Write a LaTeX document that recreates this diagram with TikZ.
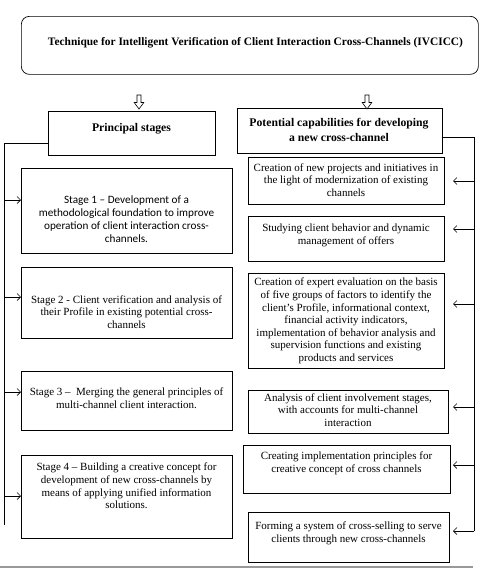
\documentclass[tikz,border=0pt]{standalone}
\usepackage{fontspec}
\setmainfont{Liberation Serif}
\newfontfamily\calibrifont{Carlito}
\usetikzlibrary{arrows.meta}
\tikzset{
  box/.style={draw, line width=0.7pt, inner sep=0pt, anchor=north west},
  txt/.style={align=center, inner sep=0pt, font=\fontsize{11}{12.6}\selectfont},
  btxt/.style={align=center, inner sep=0pt, font=\bfseries\fontsize{11.7}{15}\selectfont},
  arr/.style={-{Straight Barb[length=3.5pt,width=7pt]}, line width=0.6pt},
  conn/.style={line width=0.7pt},
  hollow/.style={draw, line width=0.6pt, fill=white},
}
\begin{document}
\begin{tikzpicture}[x=1pt,y=-1pt]
\useasboundingbox (0,0) rectangle (483,570);
% title
\node[draw, line width=0.7pt, rounded corners=8pt, anchor=north west, minimum width=457pt, minimum height=58pt, inner sep=0pt] (title) at (21,16) {};
\node[btxt, font=\bfseries\fontsize{11.4}{14}\selectfont] (tt) at (255.5,43) {Technique for Intelligent Verification of Client Interaction Cross-Channels (IVCICC)};
% headers
\node[box, minimum width=167pt, minimum height=44pt] (ps) at (48,111) {};
\node[btxt] (pst) at (131.5,129) {Principal stages};
\node[box, minimum width=205pt, minimum height=45pt] (pc) at (237,108) {};
\node[btxt] (pct) at (339,130) {Potential capabilities for developing\\a new cross-channel};
% hollow down arrows
\coordinate (da1) at (139,95);
\coordinate (da2) at (367,95);
\foreach \c in {da1,da2}{
  \draw[hollow] (\c) ++(-2,0) -- ++(0,7.5) -- ++(-2.8,0) -- ++(4.8,6.5) -- ++(4.8,-6.5) -- ++(-2.8,0) -- ++(0,-7.5) -- cycle;
}
% left stage boxes
\node[box, minimum width=211pt, minimum height=85pt] (s1) at (21,168) {};
\node[txt, font=\calibrifont\fontsize{11.2}{13}\selectfont] (s1t) at (126.5,219) {Stage 1 – Development of a\\methodological foundation to improve\\operation of client interaction cross-\\channels.};
\node[box, minimum width=211pt, minimum height=71pt] (s2) at (21,267) {};
\node[txt] (s2t) at (126.5,312) {Stage 2 - Client verification and analysis of\\their Profile in existing potential cross-\\channels};
\node[box, minimum width=211pt, minimum height=59pt] (s3) at (21,371) {};
\node[txt] (s3t) at (126.5,398) {Stage 3 –\ \ Merging the general principles of\\multi-channel client interaction.};
\node[box, minimum width=211pt, minimum height=83pt] (s4) at (21,455) {};
\node[txt] (s4t) at (126.5,486) {Stage 4 – Building a creative concept for\\development of new cross-channels by\\means of applying unified information\\solutions.};
% right boxes
\node[box, minimum width=196pt, minimum height=47pt] (ra) at (248,157) {};
\node[txt] (rat) at (346,180) {Creation of new projects and initiatives in\\the light of modernization of existing\\channels};
\node[box, minimum width=196pt, minimum height=45pt] (rb) at (248,216) {};
\node[txt] (rbt) at (346,235.5) {Studying client behavior and dynamic\\management of offers};
\node[box, minimum width=196pt, minimum height=95pt] (rc) at (248,273) {};
\node[txt] (rct) at (346,321) {Creation of expert evaluation on the basis\\of five groups of factors to identify the\\client's Profile, informational context,\\financial activity indicators,\\implementation of behavior analysis and\\supervision functions and existing\\products and services};
\node[box, minimum width=200pt, minimum height=43pt] (rd) at (248,390) {};
\node[txt] (rdt) at (348,410) {Analysis of client involvement stages,\\with accounts for multi-channel\\interaction};
\node[box, minimum width=207pt, minimum height=48pt] (re) at (243,445) {};
\node[txt] (ret) at (346.5,463.5) {Creating implementation principles for\\creative concept of cross channels};
\node[box, minimum width=201pt, minimum height=50pt] (rf) at (248,512) {};
\node[txt] (rft) at (348.5,533.5) {Forming a system of cross-selling to serve\\clients through new cross-channels};
% left connector
\coordinate (lt) at (4,143);
\coordinate (lb) at (4,525);
\draw[conn] (ps.west|-lt) -- (lt) -- (lb);
\foreach \b/\y in {s1/200,s2/297,s3/392,s4/496}{
  \draw[arr] (4,\y) -- (\b.west|-{(0,\y)});
}
% right connector
\coordinate (rt) at (474,137);
\coordinate (rbm) at (474,531);
\draw[conn] (pc.east|-rt) -- (rt) -- (rbm);
\foreach \b/\y in {ra/181,rb/229,rc/304,rd/407,re/465,rf/531}{
  \draw[arr] (474,\y) -- (453,\y);
}
% bottom rule
\coordinate (bl) at (0,567);
\coordinate (br) at (473,567);
\draw[gray!80, line width=1.4pt] (bl) -- (br);
\end{tikzpicture}
\end{document}
